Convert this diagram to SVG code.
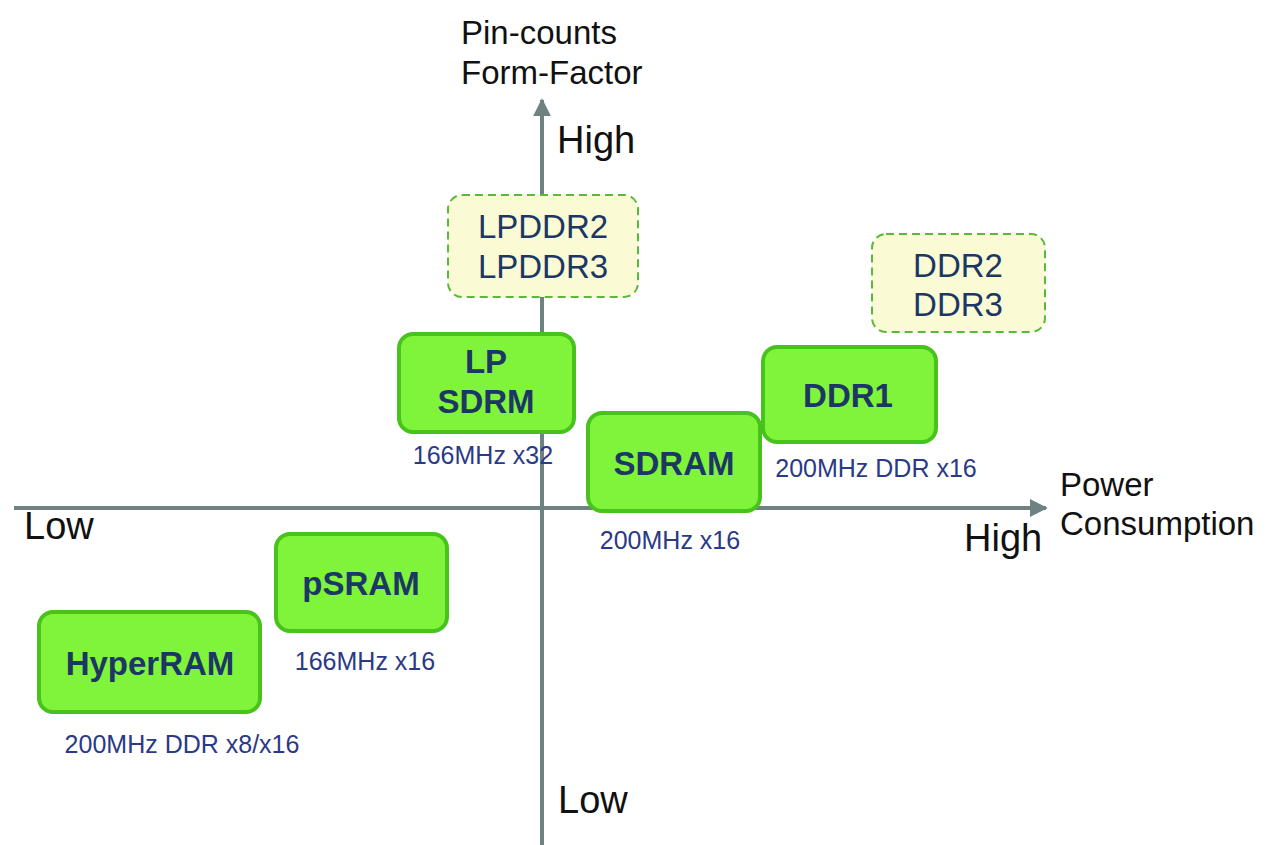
<svg xmlns="http://www.w3.org/2000/svg" width="1280" height="845" viewBox="0 0 1280 845">
<style>
.axis{stroke:#6f8282;stroke-width:4;fill:none}
.box{fill:#80f43a;stroke:#48c21c;stroke-width:4}
.dash{fill:#fafbd4;stroke:#5cb83a;stroke-width:2;stroke-dasharray:8 5}
.lbl{font-family:"Liberation Sans",Arial,sans-serif;font-weight:bold;font-size:33px;fill:#1c3764;text-anchor:middle}
.dlbl{font-family:"Liberation Sans",Arial,sans-serif;font-size:33px;fill:#1c3764;text-anchor:middle}
.sub{font-family:"Liberation Sans",Arial,sans-serif;font-size:25px;fill:#2a3a86;text-anchor:middle}
.ax{font-family:"Liberation Sans",Arial,sans-serif;font-size:33px;fill:#111}
.hl{font-family:"Liberation Sans",Arial,sans-serif;font-size:38px;fill:#111}
</style>
<defs>
<marker id="ah" viewBox="0 0 10 10" refX="9" refY="5" markerWidth="4.5" markerHeight="4.5" markerUnits="strokeWidth" orient="auto">
<path d="M0,0 L10,5 L0,10 z" fill="#6f8282"/>
</marker>
</defs>
<rect width="1280" height="845" fill="#ffffff"/>
<g id="connectors">
<line class="axis" x1="542" y1="845" x2="542" y2="100" marker-end="url(#ah)"/>
<line class="axis" x1="14" y1="508" x2="1046" y2="508" marker-end="url(#ah)"/>
</g>
<g id="axis-labels">
<text class="ax" x="461" y="44">Pin-counts</text>
<text class="ax" x="461" y="84">Form-Factor</text>
<text class="hl" x="557" y="153">High</text>
<text class="hl" x="558" y="813">Low</text>
<text class="hl" x="24" y="539">Low</text>
<text class="hl" x="964" y="551">High</text>
<text class="ax" x="1060" y="496">Power</text>
<text class="ax" x="1060" y="535">Consumption</text>
</g>
<g id="lpddr">
<rect class="dash" x="448" y="195" width="190" height="102" rx="14"/>
<text class="dlbl" x="543" y="238">LPDDR2</text>
<text class="dlbl" x="543" y="278">LPDDR3</text>
</g>
<g id="ddr23">
<rect class="dash" x="872" y="234" width="173" height="98" rx="14"/>
<text class="dlbl" x="958" y="277">DDR2</text>
<text class="dlbl" x="958" y="316">DDR3</text>
</g>
<g id="lpsdrm">
<rect class="box" x="399" y="334" width="175" height="98" rx="14"/>
<text class="lbl" x="486" y="373">LP</text>
<text class="lbl" x="486" y="413">SDRM</text>
<text class="sub" x="483" y="464">166MHz x32</text>
</g>
<g id="sdram">
<rect class="box" x="588" y="413" width="172" height="98" rx="14"/>
<text class="lbl" x="674" y="475">SDRAM</text>
<text class="sub" x="670" y="549">200MHz x16</text>
</g>
<g id="ddr1">
<rect class="box" x="763" y="347" width="173" height="95" rx="14"/>
<text class="lbl" x="848" y="407">DDR1</text>
<text class="sub" x="876" y="477">200MHz DDR x16</text>
</g>
<g id="psram">
<rect class="box" x="276" y="534" width="171" height="97" rx="14"/>
<text class="lbl" x="361" y="595">pSRAM</text>
<text class="sub" x="365" y="670">166MHz x16</text>
</g>
<g id="hyperram">
<rect class="box" x="39" y="612" width="221" height="100" rx="14"/>
<text class="lbl" x="150" y="675">HyperRAM</text>
<text class="sub" x="182" y="753">200MHz DDR x8/x16</text>
</g>
</svg>
